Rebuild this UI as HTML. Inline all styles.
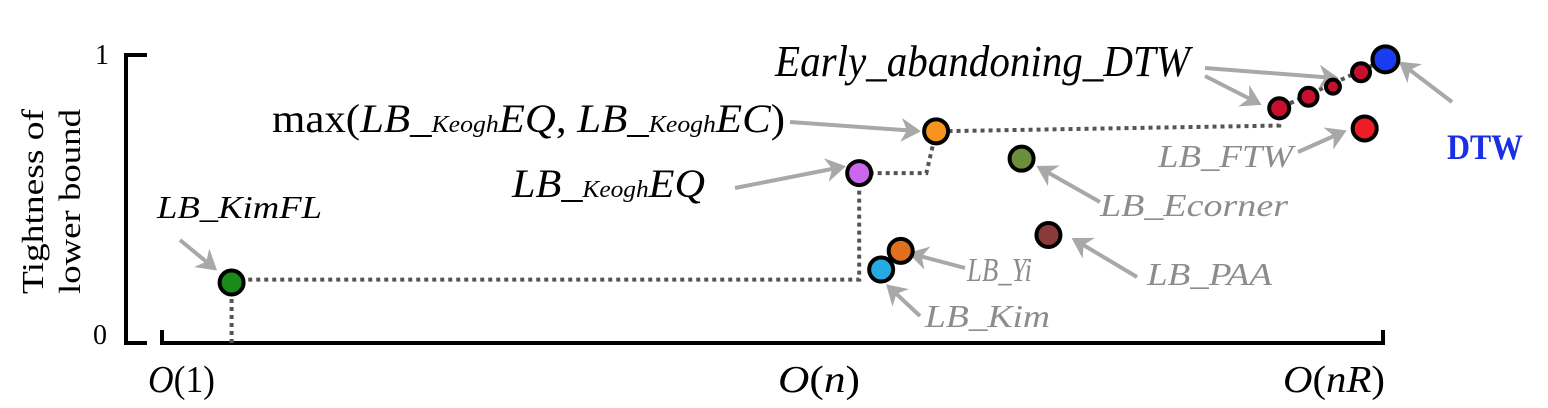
<!DOCTYPE html>
<html><head><meta charset="utf-8"><style>
html,body{margin:0;padding:0;background:#fff;}
svg{display:block;}
.it{font-family:"Liberation Serif",serif;font-style:italic;}
.rm{font-family:"Liberation Serif",serif;}
</style></head><body>
<svg id="chart" width="1548" height="408" viewBox="0 0 1548 408" xmlns="http://www.w3.org/2000/svg">
<defs><marker id="ah" markerWidth="6" markerHeight="6" refX="4" refY="3" orient="auto" markerUnits="strokeWidth"><path d="M0,0 L5,3 L0,6 L1.5,3 Z" fill="#a8a8a8"/></marker></defs>
<g>
<path d="M147,55 H126 V343 H147" fill="none" stroke="#000" stroke-width="4"/>
<text class="rm" x="95" y="64" font-size="28">1</text>
<text class="rm" x="93" y="344" font-size="28">0</text>
<text class="rm" font-size="31" transform="translate(48,202) rotate(-90)"><tspan x="-92" y="-5" textLength="185" lengthAdjust="spacingAndGlyphs">Tightness of</tspan><tspan x="-92" y="32" textLength="185" lengthAdjust="spacingAndGlyphs">lower bound</tspan></text>
</g>
<g>
<path d="M162,330 V343 H1383 V330" fill="none" stroke="#000" stroke-width="4"/>
<text class="rm" x="148" y="392" font-size="38" textLength="67" lengthAdjust="spacingAndGlyphs"><tspan font-style="italic">O</tspan>(1)</text>
<text class="rm" x="778" y="392" font-size="38" textLength="82" lengthAdjust="spacingAndGlyphs"><tspan font-style="italic">O</tspan>(<tspan font-style="italic">n</tspan>)</text>
<text class="rm" x="1283" y="392" font-size="38" textLength="102" lengthAdjust="spacingAndGlyphs"><tspan font-style="italic">O</tspan>(<tspan font-style="italic">nR</tspan>)</text>
</g>
<g id="lines"></g>
<g id="arrows"></g>
<g id="points"></g>
<g>
<text class="it" x="157" y="218" font-size="32" textLength="165" lengthAdjust="spacingAndGlyphs">LB_KimFL</text>
<text class="it" x="775" y="76" font-size="44" textLength="415" lengthAdjust="spacingAndGlyphs">Early_abandoning_DTW</text>
<text class="rm" x="272" y="132" font-size="40" textLength="513" lengthAdjust="spacingAndGlyphs">max(<tspan font-style="italic">LB_</tspan><tspan font-style="italic" font-size="24">Keogh</tspan><tspan font-style="italic">EQ</tspan>, <tspan font-style="italic">LB_</tspan><tspan font-style="italic" font-size="24">Keogh</tspan><tspan font-style="italic">EC</tspan>)</text>
<text class="it" x="512" y="197" font-size="40" textLength="193" lengthAdjust="spacingAndGlyphs">LB_<tspan font-size="24">Keogh</tspan>EQ</text>
<text class="it" x="1158" y="167" font-size="32" textLength="135" lengthAdjust="spacingAndGlyphs" fill="#8c8c8c">LB_FTW</text>
<text class="it" x="1100" y="216" font-size="32" textLength="188" lengthAdjust="spacingAndGlyphs" fill="#8c8c8c">LB_Ecorner</text>
<text class="it" x="967" y="281" font-size="34" textLength="65" lengthAdjust="spacingAndGlyphs" fill="#8c8c8c">LB_Yi</text>
<text class="it" x="1147" y="285" font-size="32" textLength="125" lengthAdjust="spacingAndGlyphs" fill="#8c8c8c">LB_PAA</text>
<text class="it" x="925" y="327" font-size="32" textLength="125" lengthAdjust="spacingAndGlyphs" fill="#8c8c8c">LB_Kim</text>
<text class="rm" x="1447" y="159" font-size="36" textLength="76" lengthAdjust="spacingAndGlyphs" font-weight="bold" fill="#1a2ee6">DTW</text>
</g>
</svg>
<script>
const names = ["LB_KimFL","LB_Kim","LB_Yi","LB_KeoghEQ","max_Keogh","LB_Ecorner","LB_PAA","LB_FTW","EA1","EA2","EA3","EA4","DTW"];
const cost = [5.7,58.9,60.5,57.1,63.4,70.4,72.6,98.5,91.5,93.9,95.9,98.2,100.2];
const tightness = [0.21,0.255,0.32,0.59,0.735,0.64,0.375,0.745,0.815,0.855,0.89,0.94,0.985];
const colors = ["#1a8a1a","#27aae1","#e07020","#cc66ee","#f7941d","#6b8e3a","#8b3a3a","#ee1c24","#c8102e","#c8102e","#c8102e","#c8102e","#1a3cf0"];
const radii = [12,12,12,12,12,12,12,12,10,9,7,9,13];
const stepPath = [[5.7,0],[5.7,0.22],[57.1,0.22],[57.1,0.59],[62.6,0.59],[63.4,0.735],[91.5,0.755],[91.5,0.815],[100.2,0.985]];
const X = v => 162 + v/100*1221;
const Y = v => 343 - v*288;
const NS="http://www.w3.org/2000/svg";
const lg=document.getElementById('lines');
const pl=document.createElementNS(NS,'polyline');
pl.setAttribute('points',stepPath.map(p=>X(p[0])+','+Y(p[1])).join(' '));
pl.setAttribute('fill','none');pl.setAttribute('stroke','#555');pl.setAttribute('stroke-width','4');pl.setAttribute('stroke-dasharray','4 4');


lg.appendChild(pl);
const pg=document.getElementById('points');
names.forEach((n,i)=>{
 const c=document.createElementNS(NS,'circle');
 c.setAttribute('cx',X(cost[i]));c.setAttribute('cy',Y(tightness[i]));c.setAttribute('r',radii[i]);
 c.setAttribute('fill',colors[i]);c.setAttribute('stroke','#000');c.setAttribute('stroke-width','4');
 
 
 pg.appendChild(c);
});
const arrows=[[180,240,214,268],[1205,68,1335,78],[1205,76,1258,103],[1452,102,1402,64],[1298,152,1343,132],[790,122,917,131],[735,188,842,167],[1100,202,1040,168],[965,268,912,254],[1137,277,1075,240],[920,316,889,287]];
const ag=document.getElementById('arrows');
arrows.forEach(a=>{
 const l=document.createElementNS(NS,'line');
 l.setAttribute('x1',a[0]);l.setAttribute('y1',a[1]);l.setAttribute('x2',a[2]);l.setAttribute('y2',a[3]);
 l.setAttribute('stroke','#a8a8a8');l.setAttribute('stroke-width','4');l.setAttribute('marker-end','url(#ah)');
 
 
 ag.appendChild(l);
});
</script>
</body></html>
